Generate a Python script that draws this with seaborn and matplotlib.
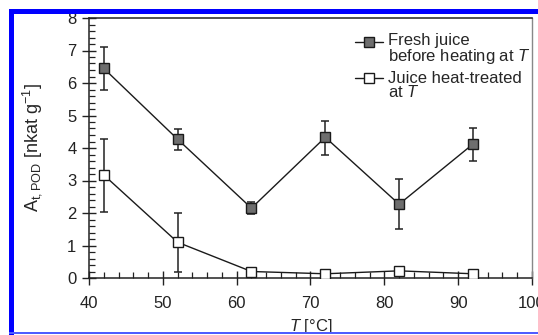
import numpy as np
import pandas as pd
import matplotlib
matplotlib.use('Agg')
import matplotlib.pyplot as plt
from matplotlib.patches import Rectangle
from matplotlib.ticker import MultipleLocator
from matplotlib.legend_handler import HandlerLine2D
import seaborn as sns

# data
temps = [42, 52, 62, 72, 82, 92]
fresh_mean = [6.45, 4.27, 2.15, 4.33, 2.27, 4.12]
fresh_low = [5.78, 3.94, 1.97, 3.78, 1.52, 3.60]
fresh_high = [7.10, 4.58, 2.34, 4.83, 3.05, 4.62]
heat_mean = [3.17, 1.10, 0.20, 0.13, 0.22, 0.13]
heat_low = [2.04, 0.18, 0.20, 0.13, 0.22, 0.13]
heat_high = [4.28, 2.00, 0.20, 0.13, 0.22, 0.13]
labels = ['Fresh juice\nbefore heating at $T$', 'Juice heat-treated\nat $T$']

df = pd.DataFrame({
    'T': temps * 2,
    'A': fresh_mean + heat_mean,
    'series': [labels[0]] * len(temps) + [labels[1]] * len(temps),
})


# legend handle sits on the first line of a two-line label
class FirstLineHandler(HandlerLine2D):
    def __init__(self, shift, **kw):
        super().__init__(**kw)
        self.shift = shift

    def create_artists(self, legend, orig_handle, xdescent, ydescent, width, height, fontsize, trans):
        return super().create_artists(legend, orig_handle, xdescent, ydescent - 2 * self.shift,
                                      width, height, fontsize, trans)


sns.set_style('ticks')
plt.rcParams['font.family'] = ['Liberation Sans', 'DejaVu Sans']
plt.rcParams['mathtext.fontset'] = 'custom'
plt.rcParams['mathtext.rm'] = 'Liberation Sans'
plt.rcParams['mathtext.it'] = 'Liberation Sans:italic'

fig = plt.figure(figsize=(5.38, 3.35), dpi=100)
ax = fig.add_axes([89 / 538, 1 - 278 / 335, (532 - 89) / 538, (278 - 18) / 335])

faces = ['#6e6e6e', 'white']
lows = [fresh_low, heat_low]
highs = [fresh_high, heat_high]
for lab, fc, lo, hi in zip(labels, faces, lows, highs):
    sub = df[df['series'] == lab]
    ax.errorbar(sub['T'], sub['A'],
                yerr=[sub['A'].values - np.array(lo), np.array(hi) - sub['A'].values],
                fmt='none', ecolor='#222222', elinewidth=1.1, capsize=3.2, capthick=1.1, zorder=2)
    sns.lineplot(data=sub, x='T', y='A', ax=ax, color='#1a1a1a', linewidth=1.0,
                 marker='s', markersize=6.8, markerfacecolor=fc, markeredgecolor='#1a1a1a',
                 markeredgewidth=1.0, label=lab, zorder=3)

ax.set_xlim(40, 100)
ax.set_ylim(0, 8)
ax.xaxis.set_major_locator(MultipleLocator(10))
ax.xaxis.set_minor_locator(MultipleLocator(2))
ax.yaxis.set_major_locator(MultipleLocator(1))
ax.yaxis.set_minor_locator(MultipleLocator(0.2))
ax.tick_params(which='major', direction='inout', length=10, width=1.0, labelsize=12, colors='#222222')
ax.tick_params(which='minor', direction='in', length=4, width=0.9, color='#222222')
ax.tick_params(axis='x', which='major', pad=8)
ax.tick_params(axis='y', which='major', pad=4)

for side in ['left', 'bottom', 'top']:
    ax.spines[side].set_color('#222222')
    ax.spines[side].set_linewidth(1.1)
ax.spines['right'].set_color('#888888')
ax.spines['right'].set_linewidth(1.0)

ax.set_xlabel('$T$ [°C]', fontsize=12, labelpad=4)
ax.set_ylabel('A$_{\\mathrm{t,POD}}$ [nkat g$^{-1}$]', fontsize=13, labelpad=17)

handles, _ = ax.get_legend_handles_labels()
leg = ax.legend(handles, labels, loc='upper left', bbox_to_anchor=(355 / 538, 1 - 33 / 335),
                bbox_transform=fig.transFigure, frameon=False, fontsize=12,
                handlelength=1.7, handletextpad=0.25, labelspacing=0.3,
                borderpad=0, borderaxespad=0,
                handler_map={h: FirstLineHandler(5.4) for h in handles})
for t in leg.get_texts():
    t.set_linespacing(0.9)

# blue frame of the source image
fig.patches.append(Rectangle((9 / 538, 0), 5 / 538, 1 - 9 / 335, transform=fig.transFigure,
                             facecolor='#0000ff', edgecolor='none', zorder=10))
fig.patches.append(Rectangle((9 / 538, 1 - 14 / 335), 1, 5 / 335, transform=fig.transFigure,
                             facecolor='#0000ff', edgecolor='none', zorder=10))
fig.patches.append(Rectangle((9 / 538, 1 - 333.5 / 335), 1, 1.2 / 335, transform=fig.transFigure,
                             facecolor='#4f5cff', edgecolor='none', zorder=10))

fig.savefig('out.png', dpi=100)
